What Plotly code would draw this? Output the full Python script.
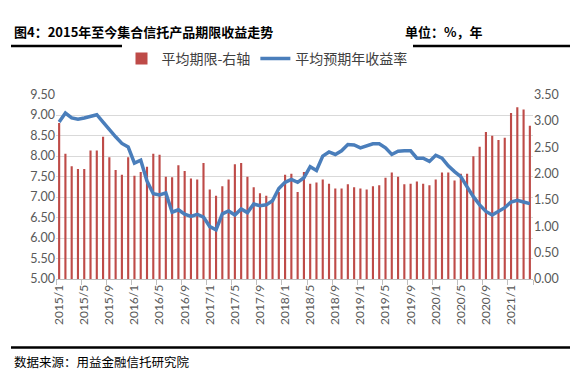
import plotly.graph_objects as go

months = [
    "2015/1", "2015/2", "2015/3", "2015/4", "2015/5", "2015/6", "2015/7", "2015/8", "2015/9", "2015/10", "2015/11", "2015/12",
    "2016/1", "2016/2", "2016/3", "2016/4", "2016/5", "2016/6", "2016/7", "2016/8", "2016/9", "2016/10", "2016/11", "2016/12",
    "2017/1", "2017/2", "2017/3", "2017/4", "2017/5", "2017/6", "2017/7", "2017/8", "2017/9", "2017/10", "2017/11", "2017/12",
    "2018/1", "2018/2", "2018/3", "2018/4", "2018/5", "2018/6", "2018/7", "2018/8", "2018/9", "2018/10", "2018/11", "2018/12",
    "2019/1", "2019/2", "2019/3", "2019/4", "2019/5", "2019/6", "2019/7", "2019/8", "2019/9", "2019/10", "2019/11", "2019/12",
    "2020/1", "2020/2", "2020/3", "2020/4", "2020/5", "2020/6", "2020/7", "2020/8", "2020/9", "2020/10", "2020/11", "2020/12",
    "2021/1", "2021/2", "2021/3", "2021/4",
]

# 平均期限 (年) - right axis
term = [
    2.96, 2.38, 2.14, 2.09, 2.09, 2.44, 2.44, 2.70, 2.31, 2.07, 1.98, 2.31,
    1.96, 2.03, 2.13, 2.38, 2.36, 1.94, 1.93, 2.16, 2.05, 1.91, 1.89, 2.20,
    1.70, 1.58, 1.76, 1.89, 2.18, 2.20, 1.94, 1.74, 1.63, 1.58, 1.52, 1.65,
    1.98, 2.00, 1.65, 2.03, 1.81, 1.83, 1.89, 1.81, 1.72, 1.72, 1.80, 1.74,
    1.72, 1.70, 1.76, 1.78, 1.92, 2.02, 1.94, 1.80, 1.81, 1.85, 1.81, 1.78,
    1.89, 2.02, 2.02, 1.87, 2.00, 2.00, 2.33, 2.51, 2.79, 2.72, 2.64, 2.68,
    3.15, 3.26, 3.22, 2.91,
]

# 平均预期年收益率 (%) - left axis
yield_rate = [
    8.83, 9.05, 8.93, 8.90, 8.93, 8.97, 9.01, 8.83, 8.64, 8.47, 8.31, 8.22,
    7.83, 7.90, 7.39, 7.08, 7.05, 7.10, 6.63, 6.69, 6.58, 6.53, 6.58, 6.51,
    6.28, 6.20, 6.59, 6.66, 6.56, 6.71, 6.62, 6.83, 6.79, 6.81, 6.91, 7.21,
    7.36, 7.43, 7.36, 7.47, 7.74, 7.65, 8.00, 8.10, 8.04, 8.13, 8.28, 8.27,
    8.20, 8.25, 8.30, 8.30, 8.20, 8.04, 8.12, 8.13, 8.13, 7.95, 7.95, 7.87,
    8.02, 7.95, 7.76, 7.62, 7.50, 7.25, 7.01, 6.81, 6.65, 6.56, 6.66, 6.74,
    6.88, 6.92, 6.88, 6.84,
]

title_text = "图4：2015年至今集合信托产品期限收益走势"
unit_text = "单位：%，年"
source_text = "数据来源：用益金融信托研究院"
bar_name = "平均期限-右轴"
line_name = "平均预期年收益率"

W, H = 578, 375
L, R, T, B = 48, 525, 80, 271

def px(x):
    return (x - L) / (R - L)

def py(y):
    return (B - y) / (B - T)

fig = go.Figure()
fig.add_trace(go.Bar(
    x=months, y=term, name=bar_name, yaxis="y",
    marker=dict(color="#BE4B48", line=dict(width=0)),
))
fig.add_trace(go.Scatter(
    x=months, y=yield_rate, name=line_name, yaxis="y2", mode="lines",
    line=dict(color="#4A7EBB", width=3.5),
))

axis_font = dict(family="Lato, 'DejaVu Sans', sans-serif", size=12.5, color="#595959")

fig.update_layout(
    width=W, height=H,
    margin=dict(l=L, r=W - R, t=T, b=H - B),
    paper_bgcolor="white", plot_bgcolor="white",
    bargap=0.66,
    showlegend=True,
    legend=dict(
        orientation="h", xref="container", yref="container",
        x=259 / W, y=1 - 51 / H, xanchor="center", yanchor="middle",
        font=dict(family="Noto Sans CJK SC", size=14, color="#404040"),
        itemwidth=30, tracegroupgap=0,
    ),
    xaxis=dict(
        type="category", range=[-0.5, len(months) - 0.5],
        dtick=4, tickson="boundaries", ticks="outside", ticklen=5,
        tickcolor="#BFBFBF", tickangle=-90,
        showline=True, linecolor="#BFBFBF", linewidth=1,
        showgrid=False, tickfont=dict(family="Lato, 'DejaVu Sans', sans-serif", size=12, color="#595959"),
    ),
    yaxis=dict(
        side="right", range=[0, 3.5], dtick=0.5, tickformat=".2f",
        showgrid=False, zeroline=False, showline=False, ticks="",
        tickfont=axis_font,
    ),
    yaxis2=dict(
        side="left", overlaying="y", range=[5, 9.5], dtick=0.5, tickformat=".2f",
        showgrid=True, gridcolor="#D9D9D9", gridwidth=1, zeroline=False,
        showline=False, ticks="", tickfont=axis_font,
    ),
    shapes=[
        dict(type="line", xref="paper", yref="paper", x0=px(3), x1=px(573), y0=py(29.5), y1=py(29.5),
             line=dict(color="black", width=2.5)),
        dict(type="line", xref="paper", yref="paper", x0=px(3), x1=px(572), y0=py(342), y1=py(342),
             line=dict(color="black", width=2.5)),
        dict(type="line", xref="paper", yref="paper", x0=px(573.5), x1=px(573.5), y0=py(31), y1=py(341),
             line=dict(color="#E0E0E0", width=1)),
    ],
    annotations=[
        dict(text="<b>" + title_text + "</b>", xref="paper", yref="paper", x=px(4), y=py(15),
             xanchor="left", yanchor="middle", showarrow=False,
             font=dict(family="Noto Sans CJK SC", size=13, color="black")),
        dict(text="<b>" + unit_text + "</b>", xref="paper", yref="paper", x=px(395), y=py(15),
             xanchor="left", yanchor="middle", showarrow=False,
             font=dict(family="Noto Sans CJK SC", size=13, color="black")),
        dict(text=source_text, xref="paper", yref="paper", x=px(4), y=py(356),
             xanchor="left", yanchor="middle", showarrow=False,
             font=dict(family="Noto Sans CJK SC", size=12.5, color="black")),
    ],
)

fig.write_html("out.html")
